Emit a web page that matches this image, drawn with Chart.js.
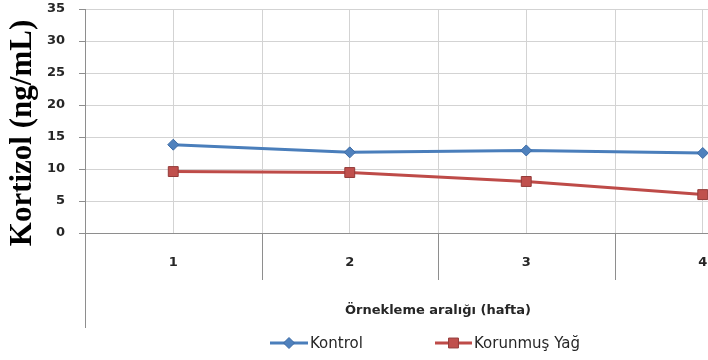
<!DOCTYPE html>
<html>
<head>
<meta charset="utf-8">
<script src="https://cdn.jsdelivr.net/npm/chart.js@4/dist/chart.umd.min.js"></script>
<style>
  html, body { margin: 0; padding: 0; background: #ffffff; overflow: hidden; }
  #wrap { width: 708px; height: 360px; overflow: hidden; }
  canvas { display: block; }
</style>
</head>
<body>
<div id="wrap"><canvas id="c" width="848" height="360"></canvas></div>
<script>
// Sampling weeks and cortisol means per group
const weeks = ['1', '2', '3', '4'];
const kontrol = [13.8, 12.6, 12.9, 12.5];
const korunmusYag = [9.6, 9.45, 8.05, 6.0];
const yTicks = [0, 5, 10, 15, 20, 25, 30, 35];

const BLUE = '#4a7ebb';
const BLUE_FILL = '#4f81bd';
const BLUE_EDGE = '#3b6aa5';
const RED = '#be4b48';
const RED_FILL = '#c0504d';
const RED_EDGE = '#933b39';
const GRID = '#d3d3d3';
const AXIS = '#8e8e8e';
const TEXT = '#262626';

// Category boundaries: light lines through the plot, darker ticks below the axis,
// plus the value axis line continued down past the category labels.
const framePlugin = {
  id: 'frame',
  beforeDatasetsDraw(chart) {
    const { ctx, scales: { x, y } } = chart;
    const n = x.ticks.length;
    const step = n > 1 ? x.getPixelForTick(1) - x.getPixelForTick(0) : x.width;
    ctx.save();
    ctx.lineWidth = 1;
    for (let i = 1; i <= n; i++) {
      const px = Math.round(x.getPixelForTick(0) + (i - 0.5) * step) + 0.5;
      ctx.strokeStyle = GRID;
      ctx.beginPath();
      ctx.moveTo(px, y.top);
      ctx.lineTo(px, y.bottom);
      ctx.stroke();
      ctx.strokeStyle = AXIS;
      ctx.beginPath();
      ctx.moveTo(px, y.bottom);
      ctx.lineTo(px, y.bottom + 47);
      ctx.stroke();
    }
    const ax = Math.round(x.left) + 0.5;
    ctx.strokeStyle = AXIS;
    ctx.beginPath();
    ctx.moveTo(ax, y.bottom);
    ctx.lineTo(ax, y.bottom + 95);
    ctx.stroke();
    ctx.restore();
  }
};

// Rotated value-axis caption
const yCaptionPlugin = {
  id: 'yCaption',
  afterDraw(chart) {
    const { ctx } = chart;
    ctx.save();
    ctx.translate(23, 133);
    ctx.rotate(-Math.PI / 2);
    ctx.font = 'bold 31px "Liberation Serif", "Times New Roman", serif';
    ctx.fillStyle = '#000000';
    ctx.textAlign = 'center';
    ctx.textBaseline = 'middle';
    ctx.fillText('Kortizol (ng/mL)', 0, 0);
    ctx.restore();
  }
};

// Legend row under the axis caption: line sample with marker, then series name
const legendPlugin = {
  id: 'legendRow',
  afterDraw(chart) {
    const { ctx } = chart;
    const rowY = 343;
    const entries = [
      { x0: 270, x1: 308, ds: chart.data.datasets[0] },
      { x0: 435, x1: 472, ds: chart.data.datasets[1] }
    ];
    ctx.save();
    entries.forEach(e => {
      const ds = e.ds;
      ctx.strokeStyle = ds.borderColor;
      ctx.lineWidth = 3;
      ctx.beginPath();
      ctx.moveTo(e.x0, rowY);
      ctx.lineTo(e.x1, rowY);
      ctx.stroke();
      ctx.fillStyle = ds.pointBackgroundColor;
      ctx.strokeStyle = ds.pointBorderColor;
      ctx.lineWidth = 1;
      Chart.helpers.drawPoint(ctx, {
        pointStyle: ds.pointStyle,
        radius: ds.pointRadius,
        borderWidth: 1
      }, (e.x0 + e.x1) / 2, rowY);
      ctx.fillStyle = TEXT;
      ctx.font = '15px "DejaVu Sans", sans-serif';
      ctx.textAlign = 'left';
      ctx.textBaseline = 'middle';
      ctx.fillText(ds.label, e.x1 + 2, rowY + 1);
    });
    ctx.restore();
  }
};

new Chart(document.getElementById('c'), {
  type: 'line',
  data: {
    labels: weeks,
    datasets: [
      {
        label: 'Kontrol',
        data: kontrol,
        borderColor: BLUE,
        borderWidth: 3,
        pointStyle: 'rectRot',
        pointRadius: 5.5,
        pointHoverRadius: 5.5,
        pointBackgroundColor: BLUE_FILL,
        pointBorderColor: BLUE_EDGE,
        pointBorderWidth: 1,
        tension: 0
      },
      {
        label: 'Korunmuş Yağ',
        data: korunmusYag,
        borderColor: RED,
        borderWidth: 3,
        pointStyle: 'rect',
        pointRadius: 7,
        pointHoverRadius: 7,
        pointBackgroundColor: RED_FILL,
        pointBorderColor: RED_EDGE,
        pointBorderWidth: 1,
        tension: 0
      }
    ]
  },
  options: {
    responsive: false,
    animation: false,
    devicePixelRatio: 1,
    layout: { padding: { top: 9, right: 57, left: 0, bottom: 0 } },
    plugins: {
      legend: { display: false },
      tooltip: { enabled: false }
    },
    scales: {
      x: {
        type: 'category',
        offset: true,
        grid: { color: GRID, offset: false, drawTicks: false },
        border: { color: AXIS, width: 1 },
        ticks: {
          padding: 22,
          color: TEXT,
          font: { family: '"DejaVu Sans", sans-serif', size: 13, weight: 'bold' }
        },
        title: {
          display: true,
          text: 'Örnekleme aralığı (hafta)',
          color: TEXT,
          font: { family: '"DejaVu Sans", sans-serif', size: 13, weight: 'bold' },
          padding: { top: 0, bottom: 42 }
        },
        afterFit(scale) {
          scale.height = 127;
          scale.paddingLeft = 0;
          scale.paddingRight = 0;
        }
      },
      y: {
        min: 0,
        max: 35,
        grid: {
          color: GRID,
          tickLength: 6,
          tickColor: (c) => (c.tick && c.tick.value % 5 === 0 ? AXIS : 'rgba(0,0,0,0)')
        },
        border: { color: AXIS, width: 1 },
        ticks: {
          stepSize: 2.5,
          padding: 14,
          color: TEXT,
          font: { family: '"DejaVu Sans", sans-serif', size: 13, weight: 'bold' },
          callback: (v) => (yTicks.includes(v) ? String(v) : '')
        },
        afterFit(scale) {
          scale.width = 85;
          scale.paddingTop = 0;
          scale.paddingBottom = 0;
        }
      }
    }
  },
  plugins: [framePlugin, yCaptionPlugin, legendPlugin]
});
</script>
</body>
</html>
